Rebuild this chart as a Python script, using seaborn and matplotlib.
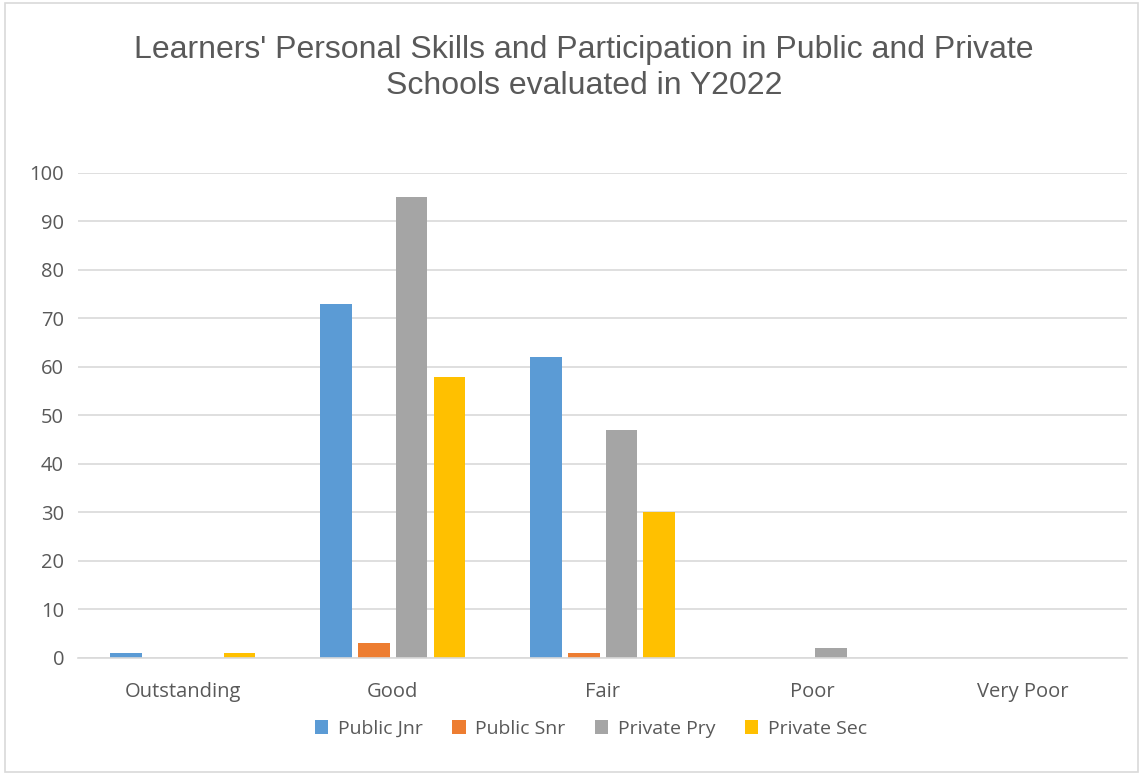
import matplotlib
matplotlib.use("Agg")
import matplotlib.pyplot as plt
import seaborn as sns
import pandas as pd

categories = ["Outstanding", "Good", "Fair", "Poor", "Very Poor"]
public_jnr = [1, 73, 62, 0, 0]
public_snr = [0, 3, 1, 0, 0]
private_pry = [0, 95, 47, 2, 0]
private_sec = [1, 58, 30, 0, 0]
series_names = ["Public Jnr", "Public Snr", "Private Pry", "Private Sec"]
y_ticks = [0, 10, 20, 30, 40, 50, 60, 70, 80, 90, 100]

palette = ["#5B9BD5", "#ED7D31", "#A5A5A5", "#FFC000"]

rows = []
for name, vals in zip(series_names, [public_jnr, public_snr, private_pry, private_sec]):
    for cat, v in zip(categories, vals):
        rows.append({"Rating": cat, "Series": name, "Value": v})
df = pd.DataFrame(rows)

sns.set_theme(style="white")
plt.rcParams["font.family"] = ["Open Sans", "DejaVu Sans"]

fig = plt.figure(figsize=(11.43, 7.75), dpi=100)
ax = fig.add_axes([0.0682, 0.151, 0.918, 0.626])

sns.barplot(data=df, x="Rating", y="Value", hue="Series", order=categories,
            hue_order=series_names, palette=palette, width=0.72, gap=0.16,
            saturation=1, errorbar=None, linewidth=0, ax=ax, legend=True)

ax.set_ylim(0, 100)
ax.set_yticks(y_ticks)
ax.yaxis.grid(True, color="#d9d9d9", linewidth=1.2)
ax.set_axisbelow(True)
for s in ["left", "right", "top"]:
    ax.spines[s].set_visible(False)
ax.spines["bottom"].set_color("#d9d9d9")
ax.spines["bottom"].set_linewidth(1.2)
ax.tick_params(axis="both", length=0, labelsize=14.5, colors="#595959", pad=10)
ax.tick_params(axis="x", pad=17)
ax.set_xlabel("")
ax.set_ylabel("")

leg = ax.legend(loc="upper center", bbox_to_anchor=(0.489, -0.092), ncol=4,
                frameon=False, fontsize=14, handlelength=0.7, handleheight=0.7,
                columnspacing=1.5, handletextpad=0.5)
for t in leg.get_texts():
    t.set_color("#595959")

fig.suptitle("Learners' Personal Skills and Participation in Public and Private\nSchools evaluated in Y2022",
             x=0.511, y=0.955, fontsize=23, color="#595959", family=["Liberation Sans", "DejaVu Sans"],
             linespacing=1.25)

fig.patches.append(plt.Rectangle((0.004, 0.004), 0.992, 0.992, transform=fig.transFigure,
                                 fill=False, edgecolor="#d9d9d9", linewidth=1.2))

fig.savefig("out.png", dpi=100)
